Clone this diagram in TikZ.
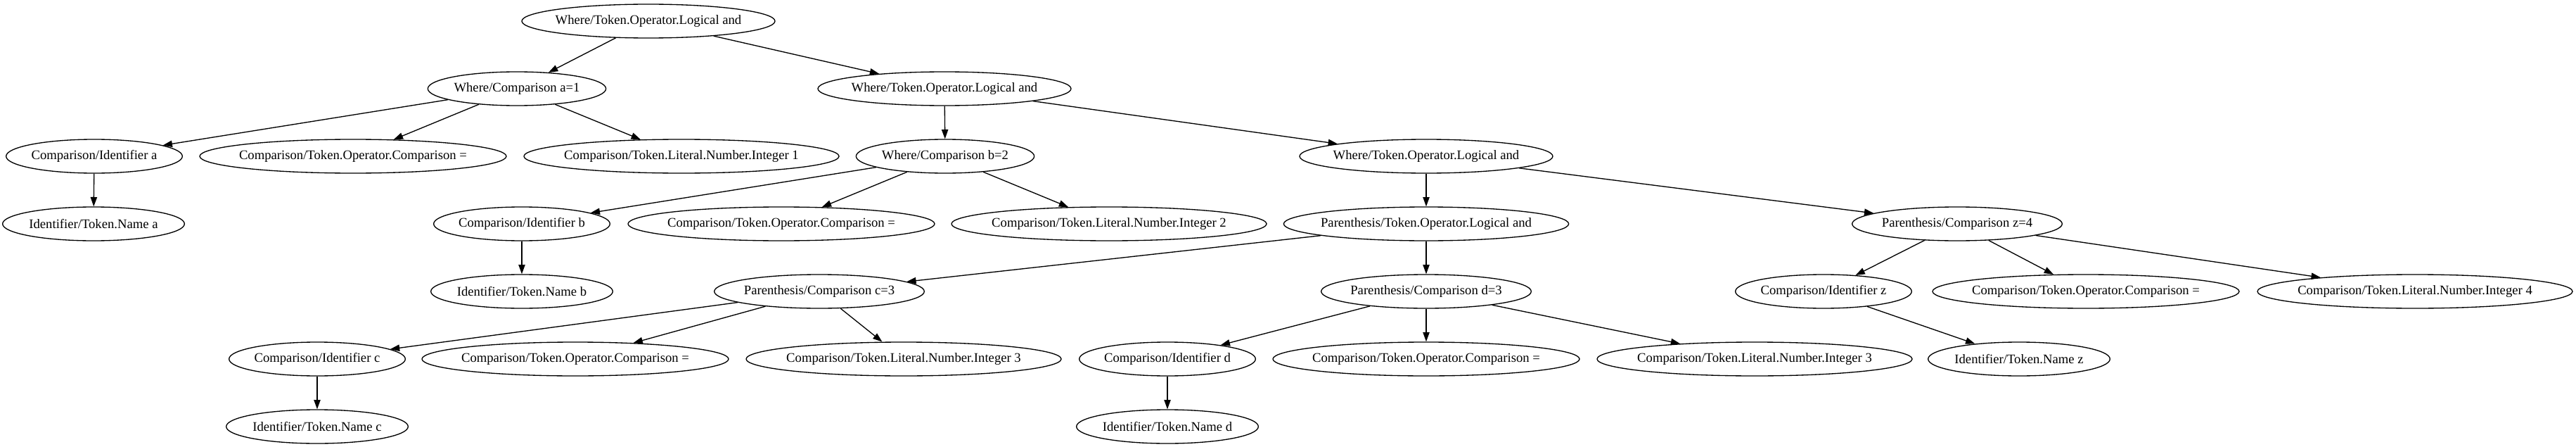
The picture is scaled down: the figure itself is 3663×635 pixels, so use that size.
\documentclass[tikz,border=0pt]{standalone}
\usepackage{fontspec}
\setmainfont{Liberation Serif}
\usepackage{tikz}
\usetikzlibrary{shapes.geometric,arrows.meta}
\begin{document}
\begin{tikzpicture}[
    x=0.75pt,y=-0.75pt,line width=1pt,
    tok/.style={draw,black,ellipse,inner xsep=-30pt,inner ysep=0pt,minimum height=36pt,font=\fontsize{14}{16}\selectfont},
    wand/.style={tok,minimum width=270pt},
    wcmp/.style={tok,minimum width=190pt},
    ident/.style={tok,minimum width=188pt},
    opcmp/.style={tok,minimum width=327pt},
    intlit/.style={tok,minimum width=336pt},
    tname/.style={tok,minimum width=194pt},
    pand/.style={tok,minimum width=304pt},
    pcmp/.style={tok,minimum width=224pt},
    edge/.style={-{Triangle[length=10pt,width=7pt]}}
    ]
    \useasboundingbox (0, 0) rectangle (3663, 635);
    \node[wand] (root) at (922, 30) {Where/Token.Operator.Logical and};
    \node[wcmp] (wa1) at (735, 126) {Where/Comparison a=1};
    \node[wand] (wand2) at (1343, 126) {Where/Token.Operator.Logical and};
    \node[ident] (ida) at (134, 222) {Comparison/Identifier a};
    \node[opcmp] (opa) at (502, 222) {Comparison/Token.Operator.Comparison =};
    \node[intlit] (inta) at (969, 222) {Comparison/Token.Literal.Number.Integer 1};
    \node[wcmp] (wb2) at (1344, 222) {Where/Comparison b=2};
    \node[wand] (wand3) at (2028, 222) {Where/Token.Operator.Logical and};
    \node[tname] (namea) at (133, 318) {Identifier/Token.Name a};
    \node[ident] (idb) at (742, 318) {Comparison/Identifier b};
    \node[opcmp] (opb) at (1111, 318) {Comparison/Token.Operator.Comparison =};
    \node[intlit] (intb) at (1577, 318) {Comparison/Token.Literal.Number.Integer 2};
    \node[pand] (pand1) at (2028, 318) {Parenthesis/Token.Operator.Logical and};
    \node[pcmp] (pz4) at (2783, 318) {Parenthesis/Comparison z=4};
    \node[tname] (nameb) at (742, 414) {Identifier/Token.Name b};
    \node[pcmp] (pc3) at (1165, 414) {Parenthesis/Comparison c=3};
    \node[pcmp] (pd3) at (2028, 414) {Parenthesis/Comparison d=3};
    \node[ident] (idz) at (2593, 414) {Comparison/Identifier z};
    \node[opcmp] (opz) at (2966, 414) {Comparison/Token.Operator.Comparison =};
    \node[intlit] (intz) at (3434, 414) {Comparison/Token.Literal.Number.Integer 4};
    \node[ident] (idc) at (451, 510) {Comparison/Identifier c};
    \node[opcmp] (opc) at (818, 510) {Comparison/Token.Operator.Comparison =};
    \node[intlit] (intc) at (1285, 510) {Comparison/Token.Literal.Number.Integer 3};
    \node[ident] (idd) at (1660, 510) {Comparison/Identifier d};
    \node[opcmp] (opd) at (2028, 510) {Comparison/Token.Operator.Comparison =};
    \node[intlit] (intd) at (2495, 510) {Comparison/Token.Literal.Number.Integer 3};
    \node[tname] (namez) at (2871, 510) {Identifier/Token.Name z};
    \node[tname] (namec) at (451, 606) {Identifier/Token.Name c};
    \node[tname] (named) at (1660, 606) {Identifier/Token.Name d};
    \foreach \a/\b in {root/wa1, root/wand2, wa1/ida, wa1/opa, wa1/inta, ida/namea,
        wand2/wb2, wand2/wand3, wb2/idb, wb2/opb, wb2/intb, idb/nameb,
        wand3/pand1, wand3/pz4, pand1/pc3, pand1/pd3,
        pc3/idc, pc3/opc, pc3/intc, idc/namec,
        pd3/idd, pd3/opd, pd3/intd, idd/named,
        pz4/idz, pz4/opz, pz4/intz, idz/namez}
      \draw[edge] (\a) -- (\b);
  \end{tikzpicture}
\end{document}
